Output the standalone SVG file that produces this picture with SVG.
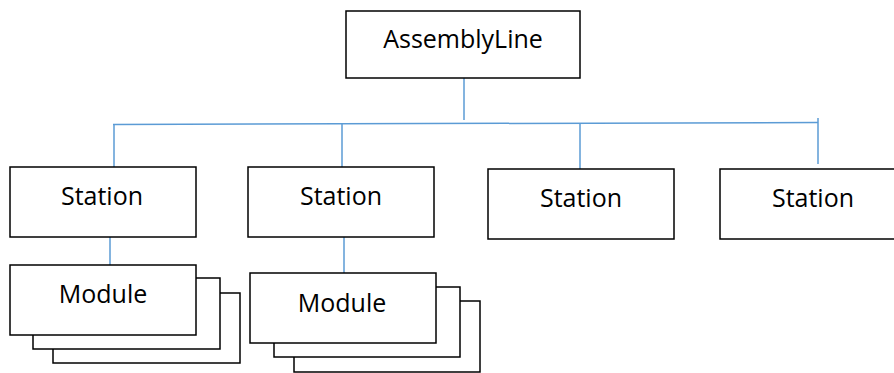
<svg xmlns="http://www.w3.org/2000/svg" width="894" height="373" viewBox="0 0 894 373">
<style>
.box{fill:#fff;stroke:#000;stroke-width:1.5}
.lbl{font-family:"Open Sans","Liberation Sans",Arial,sans-serif;font-size:25px;fill:#000;text-anchor:middle}
.con{stroke:#5B9BD5;stroke-width:1.5;fill:none}
</style>
<rect width="894" height="373" fill="#fff"/>
<g id="connectors">
<line class="con" x1="464" y1="75" x2="464" y2="120"/>
<line class="con" x1="113" y1="124.5" x2="818" y2="122.5"/>
<line class="con" x1="114" y1="124.5" x2="114" y2="167"/>
<line class="con" x1="342" y1="124" x2="342" y2="167"/>
<line class="con" x1="580" y1="123" x2="580" y2="169"/>
<line class="con" x1="818" y1="118" x2="818" y2="164"/>
<line class="con" x1="110" y1="237" x2="110" y2="265"/>
<line class="con" x1="344" y1="237" x2="344" y2="273"/>
</g>
<g id="assemblyline">
<rect class="box" x="346" y="11" width="234" height="67"/>
<text class="lbl" x="463" y="48">AssemblyLine</text>
</g>
<g id="station1">
<rect class="box" x="10" y="167" width="186" height="70"/>
<text class="lbl" x="102" y="205">Station</text>
</g>
<g id="station2">
<rect class="box" x="248" y="167" width="186" height="70"/>
<text class="lbl" x="341" y="205">Station</text>
</g>
<g id="station3">
<rect class="box" x="488" y="169" width="186" height="70"/>
<text class="lbl" x="581" y="207">Station</text>
</g>
<g id="station4">
<rect class="box" x="720" y="169" width="186" height="70"/>
<text class="lbl" x="813" y="207">Station</text>
</g>
<g id="module1">
<rect class="box" x="53" y="293" width="187" height="70"/>
<rect class="box" x="33" y="278" width="187" height="71"/>
<rect class="box" x="10" y="265" width="186" height="70"/>
<text class="lbl" x="103" y="303">Module</text>
</g>
<g id="module2">
<rect class="box" x="294" y="301" width="186" height="71"/>
<rect class="box" x="274" y="287" width="186" height="70"/>
<rect class="box" x="250" y="273" width="186" height="70"/>
<text class="lbl" x="342" y="312">Module</text>
</g>
</svg>
